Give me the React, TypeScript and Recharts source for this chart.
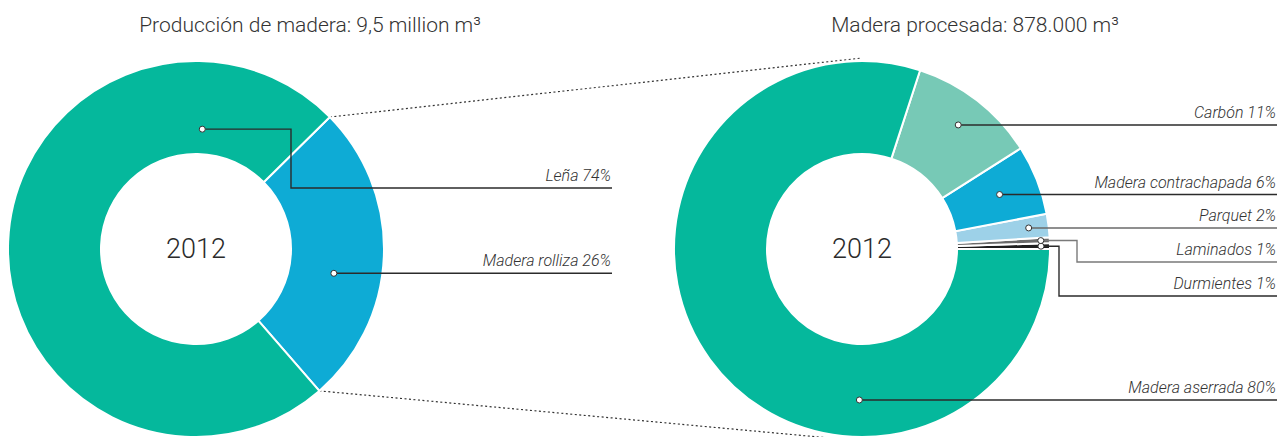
import { Cell, Customized, Pie, PieChart } from 'recharts'

// Producción de madera (left donut), counter-clockwise from the start angle
const PRODUCTION_NAMES = ['Madera rolliza', 'Leña']
const PRODUCTION_VALUES = [26, 74]
const PRODUCTION_LABELS = ['Madera rolliza 26%', 'Leña 74%']

// Madera procesada (right donut), counter-clockwise from 3 o'clock
const PROCESSED_NAMES = ['Durmientes', 'Laminados', 'Parquet', 'Madera contrachapada', 'Carbón', 'Madera aserrada']
const PROCESSED_VALUES = [0.5, 0.5, 2, 6, 11, 80]
const PROCESSED_LABELS = ['Durmientes 1%', 'Laminados 1%', 'Parquet 2%', 'Madera contrachapada 6%', 'Carbón 11%', 'Madera aserrada 80%']

const YEAR = '2012'
const TITLES = ['Producción de madera: 9,5 million m³', 'Madera procesada: 878.000 m³']

const PRODUCTION_COLORS = ['#0eabd5', '#05b89c']
const PROCESSED_COLORS = ['#1e1e1e', '#6a6a6a', '#9dd1e8', '#0eabd5', '#77c9b6', '#05b89c']

const W = 1278
const H = 437
const CY = 249
const LEFT_CX = 196
const RIGHT_CX = 862
const INNER_R = 95
const OUTER_R = 188
const LEFT_START = -49

const FONT = 'Roboto, "Liberation Sans", Arial, sans-serif'

type LabelLayout = { angle?: number; r: number; elbowX?: number; lineY?: number; stroke: string }

const PRODUCTION_LAYOUT: LabelLayout[] = [
  { angle: -10, r: 140, stroke: '#2b2b2b' },
  { angle: 87, r: 120, elbowX: 291, lineY: 188, stroke: '#2b2b2b' },
]

const PROCESSED_LAYOUT: LabelLayout[] = [
  { r: 179, elbowX: 1059, lineY: 296, stroke: '#2b2b2b' },
  { r: 179, elbowX: 1077, lineY: 262, stroke: '#7a7a7a' },
  { r: 168, stroke: '#6a6a6a' },
  { r: 148, stroke: '#2b2b2b' },
  { r: 157, stroke: '#2b2b2b' },
  { angle: -91, r: 151, stroke: '#2b2b2b' },
]

const productionData = PRODUCTION_NAMES.map((name, i) => ({ name, value: PRODUCTION_VALUES[i] }))
const processedData = PROCESSED_NAMES.map((name, i) => ({ name, value: PROCESSED_VALUES[i] }))

function polar(cx: number, cy: number, r: number, angle: number) {
  const rad = (-angle * Math.PI) / 180
  return { x: cx + r * Math.cos(rad), y: cy + r * Math.sin(rad) }
}

function makeLabel(labels: string[], layout: LabelLayout[], endX: number) {
  return (props: any) => {
    const { cx, cy, midAngle, index } = props
    const l = layout[index]
    const p = polar(cx, cy, l.r, l.angle ?? midAngle)
    const lineY = l.lineY ?? p.y
    const pts =
      l.elbowX != null
        ? `${p.x},${p.y} ${l.elbowX},${p.y} ${l.elbowX},${lineY} ${endX},${lineY}`
        : `${p.x},${p.y} ${endX},${p.y}`
    return (
      <g key={`label-${index}`}>
        <polyline points={pts} fill="none" stroke={l.stroke} strokeWidth={1.4} />
        <circle cx={p.x} cy={p.y} r={3} fill="#fff" stroke="#333" strokeWidth={1} />
        <text
          x={endX - 1}
          y={lineY - 7}
          textAnchor="end"
          fontFamily={FONT}
          fontStyle="italic"
          fontWeight={300}
          fontSize={16}
          fill="#333"
        >
          {labels[index]}
        </text>
      </g>
    )
  }
}

function Decorations() {
  // dotted connectors from the "Madera rolliza" wedge edges to the right donut
  const total = PRODUCTION_VALUES.reduce((s, v) => s + v, 0)
  const rollizaEnd = LEFT_START + (360 * PRODUCTION_VALUES[0]) / total
  const a = polar(LEFT_CX, CY, OUTER_R, rollizaEnd)
  const b = polar(LEFT_CX, CY, OUTER_R, LEFT_START)
  const top = polar(RIGHT_CX, CY, OUTER_R + 3, 90)
  const bottom = polar(RIGHT_CX, CY, OUTER_R + 4, -90)
  return (
    <g>
      <line x1={a.x} y1={a.y} x2={top.x} y2={top.y} stroke="#333" strokeWidth={1.2} strokeDasharray="2 2.5" />
      <line x1={b.x} y1={b.y} x2={bottom.x} y2={bottom.y} stroke="#333" strokeWidth={1.2} strokeDasharray="2 2.5" />
      <text x={310} y={32} textAnchor="middle" fontFamily={FONT} fontWeight={300} fontSize={21} fill="#333">
        {TITLES[0]}
      </text>
      <text x={975} y={32} textAnchor="middle" fontFamily={FONT} fontWeight={300} fontSize={21} fill="#333">
        {TITLES[1]}
      </text>
      <text x={LEFT_CX} y={CY + 9} textAnchor="middle" fontFamily={FONT} fontWeight={300} fontSize={27} fill="#2b2b2b">
        {YEAR}
      </text>
      <text x={RIGHT_CX} y={CY + 9} textAnchor="middle" fontFamily={FONT} fontWeight={300} fontSize={27} fill="#2b2b2b">
        {YEAR}
      </text>
    </g>
  )
}

export default function App() {
  return (
    <div style={{ position: 'absolute', left: 0, top: 0, width: W, height: H, background: '#fff' }}>
      <PieChart width={W} height={H} margin={{ top: 0, right: 0, bottom: 0, left: 0 }}>
        <Pie
          data={productionData}
          dataKey="value"
          cx={LEFT_CX}
          cy={CY}
          innerRadius={INNER_R}
          outerRadius={OUTER_R}
          startAngle={LEFT_START}
          endAngle={LEFT_START + 360}
          stroke="#fff"
          strokeWidth={2}
          labelLine={false}
          label={makeLabel(PRODUCTION_LABELS, PRODUCTION_LAYOUT, 612)}
          isAnimationActive={false}
        >
          {productionData.map((d, i) => (
            <Cell key={d.name} fill={PRODUCTION_COLORS[i]} />
          ))}
        </Pie>
        <Pie
          data={processedData}
          dataKey="value"
          cx={RIGHT_CX}
          cy={CY}
          innerRadius={INNER_R}
          outerRadius={OUTER_R}
          startAngle={0}
          endAngle={360}
          stroke="#fff"
          strokeWidth={2}
          labelLine={false}
          label={makeLabel(PROCESSED_LABELS, PROCESSED_LAYOUT, 1277)}
          isAnimationActive={false}
        >
          {processedData.map((d, i) => (
            <Cell key={d.name} fill={PROCESSED_COLORS[i]} />
          ))}
        </Pie>
        <Customized component={Decorations} />
      </PieChart>
    </div>
  )
}
